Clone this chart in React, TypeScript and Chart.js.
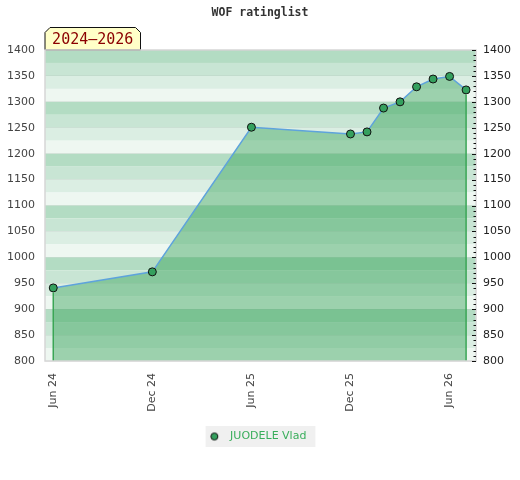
import { useEffect, useRef } from 'react';
import { Chart, registerables } from 'chart.js';

Chart.register(...registerables);

// ---- data ----
const months = [0, 6, 12, 18, 19, 20, 21, 22, 23, 24, 25]; // months since Jun 2024
const ratings = [941, 972, 1251, 1238, 1242, 1288, 1300, 1329, 1344, 1349, 1323];
const tickMonths = [0, 6, 12, 18, 24];
const tickLabels = ['Jun 24', 'Dec 24', 'Jun 25', 'Dec 25', 'Jun 26'];
const playerName = 'JUODELE Vlad';
const chartTitle = 'WOF ratinglist';
const periodLabel = '2024–2026';

// ---- styles ----
const bandColors = ['#b3dcc3', '#c8e5d4', '#dbeee3', '#eef7f1'];
const FONT = '"DejaVu Sans", sans-serif';
const MONO = '"DejaVu Sans Mono", monospace';

function makeDot(): HTMLCanvasElement {
  const c = document.createElement('canvas');
  c.width = 22;
  c.height = 10;
  const g = c.getContext('2d')!;
  g.beginPath();
  g.arc(6.3, 5, 3.5, 0, Math.PI * 2);
  g.fillStyle = '#35a05e';
  g.fill();
  g.lineWidth = 1;
  g.strokeStyle = '#111';
  g.stroke();
  return c;
}

const decor = {
  id: 'decor',
  beforeDraw(chart: any) {
    const { ctx, chartArea: a, scales } = chart;
    const y = scales.y;
    ctx.save();
    // horizontal bands every 25
    for (let v = y.max; v > y.min; v -= 25) {
      const idx = ((100 - (v % 100)) % 100) / 25;
      const top = y.getPixelForValue(v);
      const bot = y.getPixelForValue(v - 25);
      ctx.fillStyle = bandColors[idx];
      ctx.fillRect(a.left, top, a.right - a.left, bot - top);
    }
    // title
    ctx.font = 'bold 11.5px ' + MONO;
    ctx.fillStyle = '#333';
    ctx.textAlign = 'center';
    ctx.textBaseline = 'middle';
    ctx.fillText(chartTitle, chart.width / 2, 13);
    // period label tab
    const l = a.left, r = a.left + 95.5, t = 27.5, b = a.top, c = 5;
    ctx.beginPath();
    ctx.moveTo(l, b);
    ctx.lineTo(l, t + c);
    ctx.lineTo(l + c, t);
    ctx.lineTo(r - c, t);
    ctx.lineTo(r, t + c);
    ctx.lineTo(r, b);
    ctx.closePath();
    ctx.fillStyle = '#ffffc8';
    ctx.fill();
    ctx.lineWidth = 1;
    ctx.strokeStyle = '#111';
    ctx.stroke();
    ctx.font = '15px ' + MONO;
    ctx.fillStyle = '#8b0000';
    ctx.fillText(periodLabel, (l + r) / 2, 40);
    // legend background
    const hb = chart.legend && chart.legend.legendHitBoxes && chart.legend.legendHitBoxes[0];
    if (hb) {
      ctx.fillStyle = '#f0f0f0';
      ctx.fillRect(hb.left - 8, hb.top - 5, hb.width + 17, hb.height + 10);
    }
    ctx.restore();
  },
  afterDatasetsDraw(chart: any) {
    const { ctx, chartArea: a, scales } = chart;
    ctx.save();
    ctx.strokeStyle = '#3aa655';
    ctx.lineWidth = 1.5;
    [0, months.length - 1].forEach((i) => {
      const px = scales.x.getPixelForValue(months[i]);
      const py = scales.y.getPixelForValue(ratings[i]);
      ctx.beginPath();
      ctx.moveTo(px, py + 4.5);
      ctx.lineTo(px, a.bottom);
      ctx.stroke();
    });
    ctx.restore();
  },
  afterDraw(chart: any) {
    const { ctx, chartArea: a, scales } = chart;
    const y = scales.y;
    ctx.save();
    ctx.strokeStyle = '#d6d6d6';
    ctx.lineWidth = 1.5;
    ctx.strokeRect(a.left, a.top, a.right - a.left, a.bottom - a.top);
    ctx.strokeStyle = '#111';
    ctx.lineWidth = 1;
    for (let v = y.min; v <= y.max; v += 10) {
      const py = Math.round(y.getPixelForValue(v)) + 0.5;
      const len = v % 50 === 0 ? 4 : 2.5;
      ctx.beginPath();
      ctx.moveTo(a.right - len, py);
      ctx.lineTo(a.right, py);
      ctx.stroke();
    }
    ctx.restore();
  },
};

export default function App() {
  const ref = useRef<HTMLCanvasElement>(null);
  useEffect(() => {
    const dot = makeDot();
    const chart = new Chart(ref.current!, {
      type: 'line',
      data: {
        datasets: [
          {
            label: playerName,
            data: months.map((m, i) => ({ x: m, y: ratings[i] })),
            borderColor: '#5ea3dc',
            borderWidth: 1.5,
            backgroundColor: 'rgba(42,157,78,0.42)',
            fill: 'start',
            tension: 0,
            pointRadius: 4,
            pointBackgroundColor: '#35a05e',
            pointBorderColor: '#111',
            pointBorderWidth: 1,
          },
        ],
      },
      options: {
        animation: false,
        responsive: false,
        devicePixelRatio: 1,
        layout: { padding: { top: 50, bottom: 28, left: 0, right: 0 } },
        plugins: {
          title: { display: false },
          tooltip: { enabled: false },
          legend: {
            position: 'bottom',
            labels: {
              usePointStyle: true,
              boxWidth: 11,
              boxHeight: 5,
              padding: 10,
              font: { family: FONT, size: 11 },
              color: '#3aae5c',
              generateLabels: () => [
                {
                  text: playerName,
                  pointStyle: dot as any,
                  fillStyle: '#35a05e',
                  strokeStyle: '#111',
                  lineWidth: 0,
                  fontColor: '#3aae5c',
                  hidden: false,
                  datasetIndex: 0,
                },
              ],
            },
          },
        },
        scales: {
          x: {
            type: 'linear',
            min: -0.5,
            max: 25.6,
            afterBuildTicks: (s: any) => {
              s.ticks = tickMonths.map((v) => ({ value: v }));
            },
            afterFit: (s: any) => {
              s.height = 60;
            },
            grid: { display: false, drawTicks: false },
            border: { display: false },
            ticks: {
              autoSkip: false,
              minRotation: 90,
              maxRotation: 90,
              padding: 12,
              color: '#444',
              font: { family: FONT, size: 11 },
              callback: (_v: any, i: number) => tickLabels[i],
            },
          },
          y: {
            type: 'linear',
            position: 'left',
            min: 800,
            max: 1400,
            afterFit: (s: any) => {
              s.width = 45;
            },
            grid: { color: 'rgba(0,0,0,0.05)', drawTicks: false },
            border: { display: false },
            ticks: {
              stepSize: 50,
              padding: 10,
              color: '#444',
              font: { family: FONT, size: 11 },
              callback: (v: any) => String(v),
            },
          },
          y2: {
            type: 'linear',
            position: 'right',
            min: 800,
            max: 1400,
            afterFit: (s: any) => {
              s.width = 44;
            },
            grid: { display: false, drawTicks: false },
            border: { display: false },
            ticks: {
              stepSize: 50,
              padding: 7,
              color: '#222',
              font: { family: FONT, size: 11 },
              callback: (v: any) => String(v),
            },
          },
        },
      },
      plugins: [decor],
    });
    return () => chart.destroy();
  }, []);
  return (
    <div style={{ position: 'fixed', left: 0, top: 0, width: 520, height: 480, background: '#fff' }}>
      <canvas ref={ref} width={520} height={480} />
    </div>
  );
}
